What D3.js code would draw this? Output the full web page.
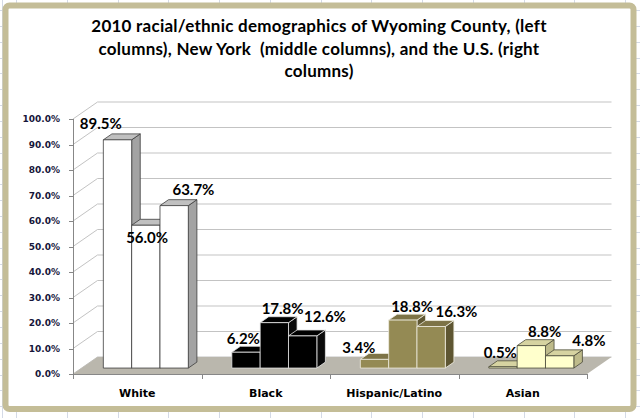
<!DOCTYPE html>
<html>
<head>
<meta charset="utf-8">
<script src="https://cdnjs.cloudflare.com/ajax/libs/d3/7.8.5/d3.min.js"></script>
<style>
  html, body { margin: 0; padding: 0; background: #fff; }
  svg { display: block; }
</style>
</head>
<body>
<div id="chart"></div>
<script>
// data
var categories = ["White", "Black", "Hispanic/Latino", "Asian"];
var wyoming = [89.5, 6.2, 3.4, 0.5];   // left columns
var newYork = [56.0, 17.8, 18.8, 8.8]; // middle columns
var usa     = [63.7, 12.6, 16.3, 4.8]; // right columns
var seriesNames = ["Wyoming County", "New York", "U.S."];
var yTicks = [0, 10, 20, 30, 40, 50, 60, 70, 80, 90, 100];
var titleLines = [
    "2010 racial/ethnic demographics of Wyoming County, (left",
    "columns), New York  (middle columns), and the U.S. (right",
    "columns)"
];

var series = [wyoming, newYork, usa];

// face colours per category: front, top, side, edge
var faceColors = {
    "White":           ["#ffffff", "#c0c0c0", "#a3a3a3", "#3c3c3c"],
    "Black":           ["#000000", "#000000", "#0a0a0a", "#e6e6e6"],
    "Hispanic/Latino": ["#948a54", "#7d7346", "#5e5632", "#efecdf"],
    "Asian":           ["#ffffcc", "#d6d3a1", "#bebb8b", "#4a4a3a"]
};

// label nudges (dx, dy) relative to top of each bar, [category][series]
var labelNudge = [
    [[-21, -10], [-3, 18], [15, -10]],
    [[-7, -8], [4, -8], [18, -13]],
    [[-20, -6], [5, -7], [21, -9]],
    [[-7, -8], [9, -8], [25, -9]]
];

var width = 640, height = 418;
var DX = 24.5, DY = 17;       // depth offset of the 3D floor
var zf = 0.35, zb = 0.70;     // bar front / back depth

var svg = d3.select("#chart").append("svg")
    .attr("width", width)
    .attr("height", height);

// spreadsheet grid behind the chart
var bg = svg.append("g").attr("stroke", "#d4dae6").attr("stroke-width", 1);
d3.range(16, width, 50.75).forEach(function(gx) {
    bg.append("line").attr("x1", Math.round(gx) + 0.5).attr("x2", Math.round(gx) + 0.5)
        .attr("y1", 0).attr("y2", height);
});
bg.append("line").attr("x1", 2.5).attr("x2", 2.5).attr("y1", 0).attr("y2", height);
d3.range(10, height, 15.85).forEach(function(gy) {
    bg.append("line").attr("y1", Math.round(gy) + 0.5).attr("y2", Math.round(gy) + 0.5)
        .attr("x1", 0).attr("x2", width);
});

// chart frame
svg.append("rect")
    .attr("x", 5.5).attr("y", 5.5)
    .attr("width", 628).attr("height", 403.5)
    .attr("rx", 4)
    .attr("fill", "#fff")
    .attr("stroke", "#c4bd97")
    .attr("stroke-width", 6);

// title
svg.append("text")
    .attr("text-anchor", "middle")
    .style("font", "bold 17px Lato, 'Open Sans', sans-serif")
    .style("letter-spacing", "0.25px")
    .style("white-space", "pre")
    .attr("fill", "#000")
    .selectAll("tspan")
    .data(titleLines)
    .enter().append("tspan")
    .attr("x", 319)
    .attr("y", function(d, i) { return 32 + i * 22.5; })
    .text(function(d) { return d; });

var x = d3.scaleBand().domain(categories).range([73, 587]).padding(0);
var y = d3.scaleLinear().domain([0, 100]).range([374, 119]);
var xs = d3.scaleBand().domain(d3.range(seriesNames.length))
    .range([0, x.bandwidth()]).paddingInner(0).paddingOuter(0.768);

function P(sx, v, z) { return [sx + z * DX, y(v) - z * DY]; }
function poly(pts) { return "M" + pts.map(function(p) { return p.join(","); }).join("L") + "Z"; }

var plot = svg.append("g");

// walls: gridlines on left wall and back wall
var x0 = x.range()[0], x1 = x.range()[1];
plot.selectAll(".grid")
    .data(yTicks)
    .enter().append("path")
    .attr("class", "grid")
    .attr("fill", "none")
    .attr("stroke", "#c3c3c3")
    .attr("stroke-width", 1)
    .attr("d", function(t) {
        return "M" + P(x0, t, 0) + "L" + P(x0, t, 1) + "L" + P(x1, t, 1);
    });

// floor
plot.append("path")
    .attr("fill", "#bab7ad")
    .attr("d", poly([P(x0, 0, 0), P(x1, 0, 0), P(x1, 0, 1), P(x0, 0, 1)]));

// value axis
var axisColor = "#878787";
plot.append("line")
    .attr("x1", x0 + 0.5).attr("x2", x0 + 0.5)
    .attr("y1", y(0)).attr("y2", y(100))
    .attr("stroke", axisColor);
plot.selectAll(".ytick")
    .data(yTicks)
    .enter().append("line")
    .attr("x1", x0 - 4).attr("x2", x0)
    .attr("y1", function(t) { return Math.round(y(t)) + 0.5; })
    .attr("y2", function(t) { return Math.round(y(t)) + 0.5; })
    .attr("stroke", axisColor);
plot.selectAll(".ylab")
    .data(yTicks)
    .enter().append("text")
    .attr("x", 60)
    .attr("y", function(t) { return y(t); })
    .attr("dy", "0.35em")
    .attr("text-anchor", "end")
    .attr("fill", "#16163a")
    .style("font", "bold 9px 'DejaVu Sans', sans-serif")
    .text(function(t) { return d3.format(".1f")(t) + "%"; });

// category axis
plot.append("line")
    .attr("x1", x0).attr("x2", x1)
    .attr("y1", y(0) + 0.5).attr("y2", y(0) + 0.5)
    .attr("stroke", axisColor);
plot.selectAll(".xtick")
    .data(categories.map(function(c) { return x(c); }).concat([x1]))
    .enter().append("line")
    .attr("x1", function(d) { return Math.round(d) + 0.5; })
    .attr("x2", function(d) { return Math.round(d) + 0.5; })
    .attr("y1", y(0)).attr("y2", y(0) + 5)
    .attr("stroke", axisColor);
plot.selectAll(".xlab")
    .data(categories)
    .enter().append("text")
    .attr("x", function(c) { return x(c) + x.bandwidth() / 2; })
    .attr("y", 397)
    .attr("text-anchor", "middle")
    .attr("fill", "#000")
    .style("font", "bold 11px 'DejaVu Sans', sans-serif")
    .text(function(c) { return c; });

// 3D columns, drawn left to right so each front hides the previous side
var bars = [];
categories.forEach(function(c, i) {
    series.forEach(function(s, j) {
        bars.push({cat: c, i: i, j: j, v: s[i]});
    });
});

var bar = plot.selectAll(".bar")
    .data(bars)
    .enter().append("g")
    .attr("class", "bar")
    .attr("stroke-width", 0.8)
    .attr("stroke-linejoin", "round")
    .attr("stroke", function(d) { return faceColors[d.cat][3]; });

bar.append("path")
    .attr("fill", function(d) { return faceColors[d.cat][2]; })
    .attr("d", function(d) {
        var a = x(d.cat) + xs(d.j) + xs.bandwidth();
        return poly([P(a, 0, zf), P(a, 0, zb), P(a, d.v, zb), P(a, d.v, zf)]);
    });
bar.append("path")
    .attr("fill", function(d) { return faceColors[d.cat][1]; })
    .attr("d", function(d) {
        var a = x(d.cat) + xs(d.j), b = a + xs.bandwidth();
        return poly([P(a, d.v, zf), P(b, d.v, zf), P(b, d.v, zb), P(a, d.v, zb)]);
    });
bar.append("path")
    .attr("fill", function(d) { return faceColors[d.cat][0]; })
    .attr("d", function(d) {
        var a = x(d.cat) + xs(d.j), b = a + xs.bandwidth();
        return poly([P(a, 0, zf), P(b, 0, zf), P(b, d.v, zf), P(a, d.v, zf)]);
    });

// value labels
plot.selectAll(".vlab")
    .data(bars)
    .enter().append("text")
    .attr("x", function(d) {
        return x(d.cat) + xs(d.j) + xs.bandwidth() / 2 + (zf + zb) / 2 * DX + labelNudge[d.i][d.j][0];
    })
    .attr("y", function(d) { return y(d.v) - zb * DY + labelNudge[d.i][d.j][1]; })
    .attr("dy", "0.35em")
    .attr("text-anchor", "middle")
    .attr("fill", "#000")
    .style("font", "bold 15px Lato, 'Open Sans', sans-serif")
    .text(function(d) { return d3.format(".1f")(d.v) + "%"; });
</script>
</body>
</html>
